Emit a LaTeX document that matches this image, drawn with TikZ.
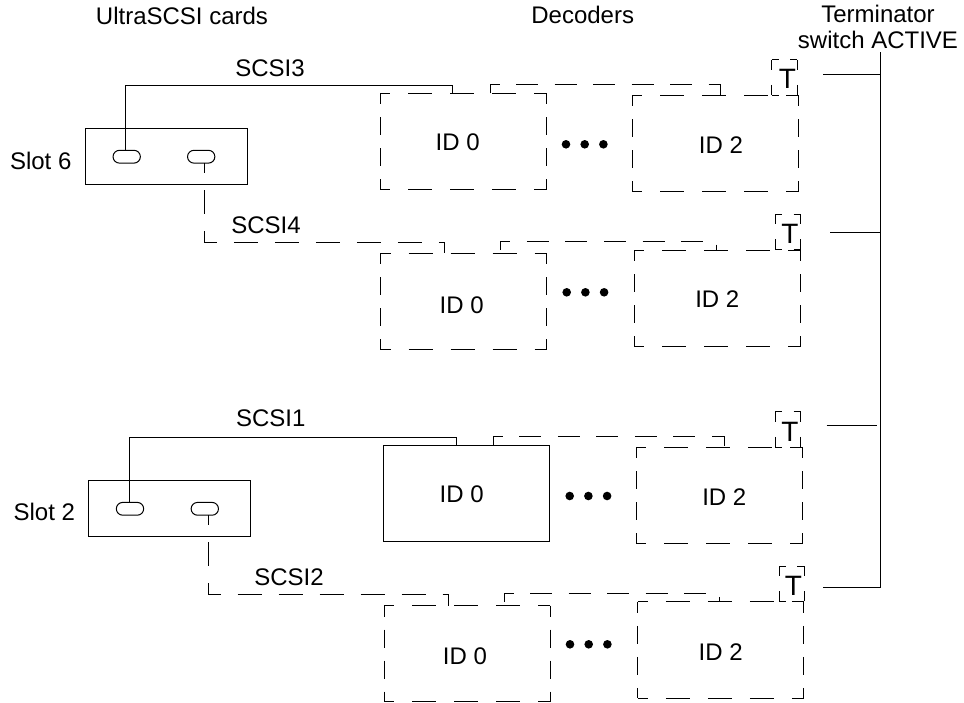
\documentclass[tikz,border=0pt]{standalone}
\usepackage{fontspec}
\setmainfont{Liberation Sans}
\usetikzlibrary{shapes.misc, calc}

\tikzset{
    wire/.style={line width=0.75pt, black},
    slotbox/.style={draw, line width=0.75pt, inner sep=0pt, outer sep=0pt, minimum width=121.5pt, minimum height=41.7pt},
    portoval/.style={draw, line width=0.75pt, rounded rectangle, inner sep=0pt, outer sep=0pt, minimum width=20.5pt, minimum height=9.6pt},
    decbox/.style={inner sep=0pt, outer sep=0pt, minimum width=124.5pt, minimum height=72.3pt},
    termbox/.style={inner sep=0pt, outer sep=0pt, minimum width=19pt, minimum height=26.6pt},
    hdash/.style={wire, dash pattern=on 18pt off 13.5pt, dash phase=10.5pt},
    vdash/.style={wire, dash pattern=on 13.5pt off 9.75pt, dash phase=5.25pt},
    cabledash/.style={wire, dash pattern=on 18pt off 12.75pt, dash phase=10.5pt},
    linkdash/.style={wire, dash pattern=on 16.5pt off 12.4pt, dash phase=3pt},
    thdash/.style={wire, dash pattern=on 5.25pt off 8.5pt},
    tvdash/.style={wire, dash pattern=on 7.5pt off 11.25pt},
    lbl/.style={inner sep=0pt, font=\fontsize{18}{20}\selectfont}
}

\begin{document}
\begin{tikzpicture}[x=0.75pt, y=-0.75pt]
    \useasboundingbox (0,0) rectangle (964,703);

    % Column headings
    \node[lbl] (headCards) at (182,16) {UltraSCSI cards};
    \node[lbl] (headDec) at (582.7,15) {Decoders};
    \node[lbl] (headTerm) at (878,27) [align=center] {Terminator\\switch ACTIVE};

    % Slot boxes and their ports
    \node[slotbox] (slotSix) at (166,156.3) {};
    \node[slotbox] (slotTwo) at (169.3,508.2) {};
    \node[lbl] (lblSix) at (40.7,160.7) {Slot 6};
    \node[lbl] (lblTwo) at (44.3,512.3) {Slot 2};
    \foreach \n/\x/\y in {ovA/126.7/156.7, ovB/201.2/156.7, ovC/130/508.8, ovD/204.8/508.8} {
        \node[portoval] (\n) at (\x,\y) {};
    }

    % Decoder boxes, dashed ones get their sides below
    \foreach \n/\x/\y in {idA/463/141.5, idB/715.3/143.3, idC/463.7/301.3, idD/717.3/298.3,
                          idE/719/495.3, idG/467.4/653.7, idH/720.8/650} {
        \node[decbox] (\n) at (\x,\y) {};
    }
    \node[decbox, draw, line width=0.75pt] (idF) at (466.5,493.5) {};
    \foreach \n in {idA, idB, idC, idD, idE, idG, idH} {
        \draw[hdash] (\n.north west) -- (\n.north east);
        \draw[hdash] (\n.south west) -- (\n.south east);
        \draw[vdash] (\n.north west) -- (\n.south west);
        \draw[vdash] (\n.north east) -- (\n.south east);
    }

    % Decoder labels
    \foreach \n/\x/\y/\t in {tA/457.7/142.7/ID 0, tB/721/145/ID 2, tC/461.7/305/ID 0, tD/717.3/299.3/ID 2,
                             tF/461.7/494.3/ID 0, tE/724.3/496.7/ID 2, tG/465/656.7/ID 0, tH/720.7/651.7/ID 2} {
        \node[lbl] (\n) at (\x,\y) {\t};
    }

    % Dots between the decoders
    \foreach \y/\s in {144.3/0, 292.3/0.7, 496/3.7, 644.3/4} {
        \foreach \x in {566, 584.7, 603.4} {
            \fill (\x+\s,\y) circle (4.3);
        }
    }

    % Terminators
    \foreach \n/\x/\y/\tx/\ty in {termA/784.5/77.5/787.3/79, termB/788/232.1/790/234,
                                  termC/788/429.5/790/431.7, termD/791.7/584/793.3/586} {
        \node[termbox] (\n) at (\x,\y) {};
        \draw[thdash] (\n.north west) -- (\n.north east);
        \draw[thdash] (\n.south west) -- (\n.south east);
        \draw[tvdash] (\n.north west) -- (\n.south west);
        \draw[tvdash] (\n.north east) -- (\n.south east);
        \node[lbl, font=\fontsize{21}{22}\selectfont] at (\tx,\ty) {T};
    }

    % Links from ID 0 to ID 2
    \foreach \a/\b/\p/\s/\q in {idA/idB/110/0/88.4, idC/idD/120.2/3.5/81.7, idF/idE/109.8/0/88.6, idG/idH/119.7/3.5/81.6} {
        \draw[linkdash] ($(\a.north west)+(\p,-\s)$) -- ++(0,-8.5) -| ($(\b.north west)+(\q,0)$);
    }

    % Cables from the cards to the first decoder
    \draw[wire] ($(ovA.north)+(-1.3,0)$) |- ($(idA.north west)+(72.3,-8.3)$) -- ($(idA.north west)+(72.3,0)$);
    \draw[wire] ($(ovC.north)+(-1,0)$) |- ($(idF.north west)+(72.5,-8)$) -- ($(idF.north west)+(72.5,0)$);
    \draw[cabledash] ($(ovB.south)+(3.1,0)$) |- ($(idC.north west)+(64.2,-10.6)$) -- ($(idC.north west)+(64.2,0)$);
    \draw[cabledash] ($(ovD.south)+(3.2,0)$) |- ($(idG.north west)+(64,-11)$) -- ($(idG.north west)+(64,0)$);

    % Cable labels
    \node[lbl] (lblThree) at (270,68.3) {SCSI3};
    \node[lbl] (lblFour) at (266,225.7) {SCSI4};
    \node[lbl] (lblOne) at (270.7,418.3) {SCSI1};
    \node[lbl] (lblTwoCable) at (289,577.3) {SCSI2};

    % Terminator switch bus
    \coordinate (busTop) at (880.3,52.3);
    \coordinate (busEnd) at (880.3,587.7);
    \coordinate (stubA) at (823.3,74);
    \coordinate (stubB) at (830,232);
    \coordinate (stubC) at (826.7,425.7);
    \coordinate (stubCend) at (876.7,425.7);
    \coordinate (stubD) at (823.3,587.7);
    \draw[wire] (busTop) -- (busEnd) -- (stubD);
    \draw[wire] (stubA) -- (stubA -| busTop);
    \draw[wire] (stubB) -- (stubB -| busTop);
    \draw[wire] (stubC) -- (stubCend);
\end{tikzpicture}
\end{document}
